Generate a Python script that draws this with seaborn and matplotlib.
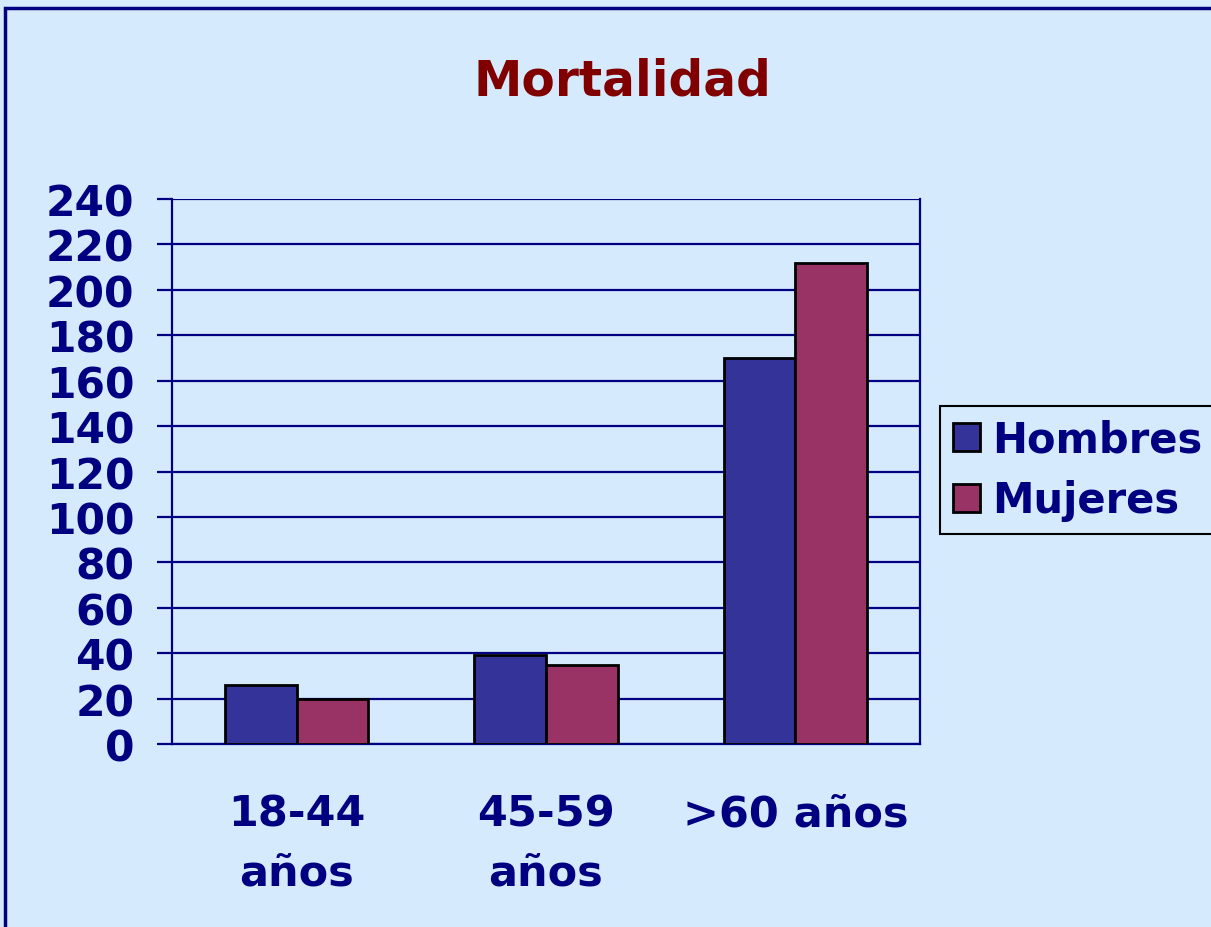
import matplotlib
matplotlib.use("Agg")
import matplotlib.pyplot as plt
import seaborn as sns
import numpy as np
import pandas as pd
from matplotlib.patches import Rectangle

# values
grupos = ['18-44\naños', '45-59\naños', '>60 años']
hombres = [26, 39, 170]
mujeres = [20, 35, 212]
series = ['Hombres', 'Mujeres']

df = pd.DataFrame({
    'grupo': grupos * 2,
    'valor': hombres + mujeres,
    'sexo': [series[0]] * len(grupos) + [series[1]] * len(grupos),
})

bg = '#D5EAFD'
navy = '#000080'
colores = {'Hombres': '#333399', 'Mujeres': '#993366'}

sns.set_style('white')
plt.rcParams['font.family'] = ['DejaVu Sans']

fig = plt.figure(figsize=(12.11, 9.28), dpi=100, facecolor=bg)
ax = fig.add_axes([172 / 1211, 1 - 745 / 928, (920 - 172) / 1211, (745 - 200) / 928])
ax.set_facecolor(bg)

sns.barplot(data=df, x='grupo', y='valor', hue='sexo', palette=colores,
            width=0.575, edgecolor='black', linewidth=2, saturation=1, ax=ax, zorder=3)

ax.set_ylim(0, 240)
ax.set_xlim(-0.5, 2.5)
ax.set_yticks(np.arange(0, 241, 20))
ax.grid(axis='y', color=navy, linewidth=1.6, zorder=0)
ax.set_axisbelow(True)
for side in ['left', 'right', 'bottom']:
    ax.spines[side].set_color(navy)
    ax.spines[side].set_linewidth(1.6)
ax.spines['top'].set_visible(False)

ax.tick_params(axis='y', direction='out', length=11, width=1.6, color=navy,
               labelsize=30.5, labelcolor=navy, pad=16, left=True)
for lab in ax.get_yticklabels():
    lab.set_fontweight('bold')

ax.set_xticks(np.arange(-0.5, 2.6, 1), minor=True)
ax.tick_params(axis='x', which='minor', direction='out', length=11, width=1.6, color=navy)
ax.tick_params(axis='x', which='major', length=0, labelsize=31, labelcolor=navy, pad=35)
for lab in ax.get_xticklabels():
    lab.set_fontweight('bold')
    lab.set_linespacing(1.5)
    lab.set_verticalalignment('top')

ax.set_xlabel('')
ax.set_ylabel('')

handles, labels = ax.get_legend_handles_labels()
leg = ax.legend(handles, labels, loc='center left', bbox_to_anchor=(940 / 1211, 1 - 471 / 928),
                bbox_transform=fig.transFigure, frameon=True, fancybox=False,
                edgecolor='black', facecolor=bg, framealpha=1,
                prop={'size': 30, 'weight': 'bold'}, handlelength=0.65, handleheight=0.65,
                handletextpad=0.3, borderpad=0.3, labelspacing=0.45, borderaxespad=0)
for t in leg.get_texts():
    t.set_color(navy)
leg.get_frame().set_linewidth(1.5)

fig.text(622 / 1211, 1 - 82 / 928, 'Mortalidad', ha='center', va='center',
         fontsize=35, fontweight='bold', color='#800000')

fig.patches.append(Rectangle((5 / 1211, -0.05), 1.2, 1 - 9 / 928 + 0.05,
                             transform=fig.transFigure, fill=False,
                             edgecolor=navy, linewidth=2.5))

fig.savefig('out.png', dpi=100, facecolor=bg)
